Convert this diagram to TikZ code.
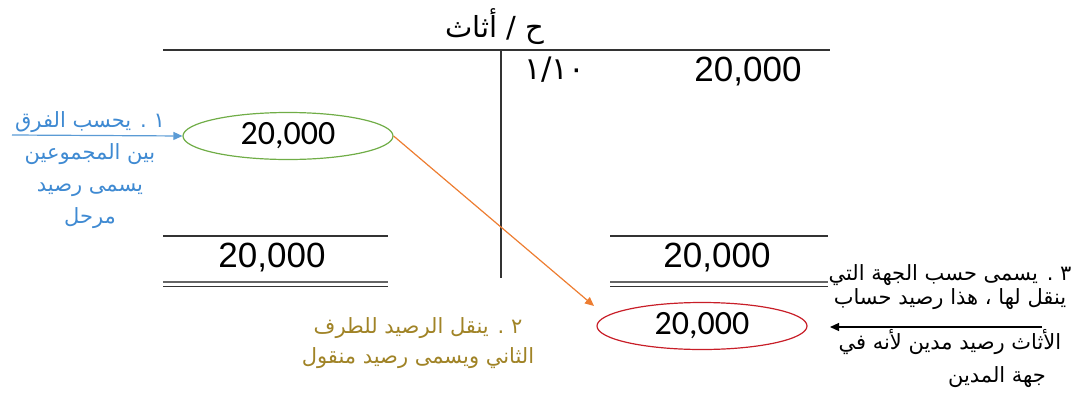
\documentclass[tikz,border=0pt]{standalone}
\usepackage{fontspec}
\setmainfont{Liberation Sans}
\newfontfamily\arabicfont[Script=Arabic]{DejaVu Sans}
\newfontfamily\calibfont{Carlito}
\usepackage{xcolor}
\usetikzlibrary{shapes.geometric, arrows.meta}
\TeXXeTstate=1
\definecolor{noteBlue}{HTML}{3F8AD2}
\definecolor{lineBlue}{HTML}{5B9BD5}
\definecolor{noteGold}{HTML}{A08326}
\definecolor{ovalGreen}{HTML}{70AD47}
\definecolor{ovalRed}{HTML}{C81E28}
\definecolor{lineOrange}{HTML}{ED7D31}

\begin{document}
\begin{tikzpicture}[x=1pt, y=-1pt, >={Triangle[length=9pt,width=8pt]},
    ar/.style={font=\arabicfont\fontsize{21}{32}\selectfont, align=center, inner sep=0pt},
    num/.style={font=\fontsize{35}{40}\selectfont, inner sep=0pt},
    oval/.style={ellipse, draw, line width=1.2pt, minimum width=210pt,
        minimum height=47pt, inner sep=0pt, font=\calibfont\fontsize{34}{40}\selectfont},
    rule/.style={line width=1.8pt, draw=black!80}]

    \useasboundingbox (0,0) rectangle (1080,394);

    % title and the T
    \node[ar, font=\arabicfont\fontsize{29}{30}\selectfont] (title) at (495,27) {\beginR ح / أثاث\endR};
    \draw[rule] (163,50) -- (830,50);
    \draw[rule] (501,50) -- (501,278);

    \node[font=\arabicfont\fontsize{31}{32}\selectfont, inner sep=0pt] (date) at (555,70) {١/١٠};
    \node[num] (debit) at (748,72) {20,000};

    % totals, left side
    \draw[rule] (163,236) -- (388,236);
    \node[num] (sumLeft) at (272,258) {20,000};
    \draw[line width=2.5pt, black!60] (163,282) -- (388,282);
    \draw[line width=1.5pt, black!80] (163,286.5) -- (388,286.5);

    % totals, right side
    \draw[rule] (610,236) -- (828,236);
    \node[num] (sumRight) at (717,258) {20,000};
    \draw[line width=2.5pt, black!60] (610,282) -- (828,282);
    \draw[line width=1.5pt, black!80] (610,286.5) -- (828,286.5);

    % balances
    \node[oval, draw=ovalGreen] (carried) at (288,136) {20,000};
    \node[oval, draw=ovalRed] (brought) at (702,326) {20,000};

    \coordinate (tipTwo) at (594,306);
    \draw[->, lineOrange, line width=1.2pt] (carried.east) -- (tipTwo);

    % notes
    \coordinate (fromOne) at (12,135);
    \draw[->, lineBlue, line width=1.2pt] (fromOne) -- (carried.west);
    \node[ar, text=noteBlue] (noteOne) at (90,170)
        {\beginR ١ . يحسب الفرق\endR\\\beginR بين المجموعين\endR\\
         \beginR يسمى رصيد\endR\\\beginR مرحل\endR};

    \node[ar, text=noteGold, font=\arabicfont\fontsize{21}{30}\selectfont] (noteTwo) at (418,343)
        {\beginR ٢ . ينقل الرصيد للطرف\endR\\\beginR الثاني ويسمى رصيد منقول\endR};

    \node[ar, font=\arabicfont\fontsize{21}{24}\selectfont] (noteThree) at (950,287)
        {\beginR ٣ . يسمى حسب الجهة التي\endR\\\beginR ينقل لها ، هذا رصيد حساب\endR};
    \node[ar] (noteThreeB) at (950,342) {\beginR الأثاث رصيد مدين لأنه في\endR};
    \node[ar] (noteThreeC) at (997,377) {\beginR جهة المدين\endR};

    \coordinate (fromThree) at (1042,327);
    \coordinate (tipThree) at (830,327);
    \draw[->, line width=1.2pt] (fromThree) -- (tipThree);

\end{tikzpicture}
\end{document}
